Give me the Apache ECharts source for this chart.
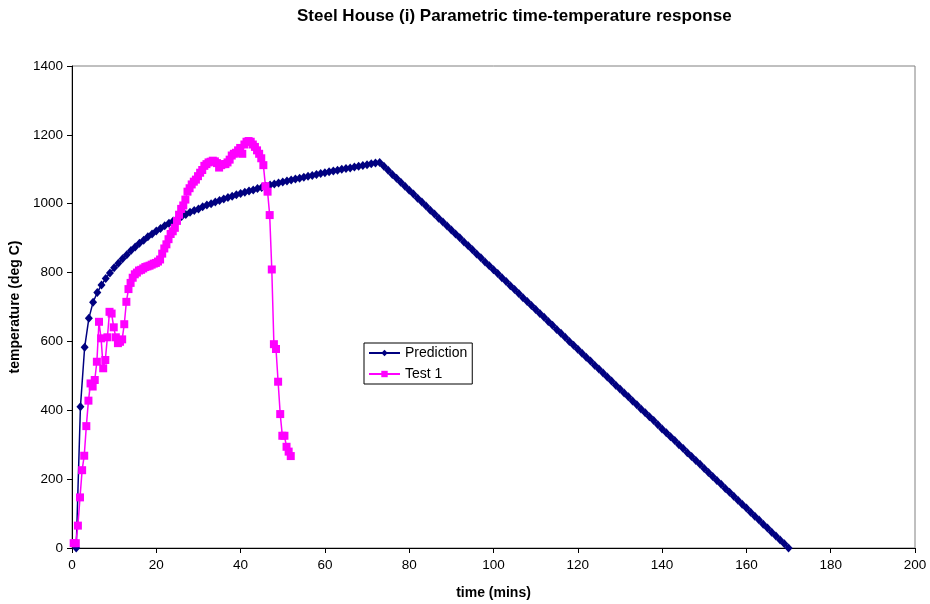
<!DOCTYPE html>
<html>
<head>
<meta charset="utf-8">
<script src="https://cdn.jsdelivr.net/npm/echarts@6/dist/echarts.min.js"></script>
<style>
html,body{margin:0;padding:0;background:#fff;}
#chart{width:930px;height:604px;}
</style>
</head>
<body>
<div id="chart"></div>
<script>
// ---- DATA ----
var titleText = 'Steel House (i) Parametric time-temperature response';
var xAxisTitle = 'time (mins)';
var yAxisTitle = 'temperature (deg C)';
var seriesNames = ['Prediction', 'Test 1'];

// Prediction: one value per minute, starting at minute 1
var predStart = 1;
var predStep = 1;
var predValues = [
  0, 410, 583, 667, 714, 742, 764, 783, 799, 814,
  827, 840, 852, 864, 874, 885, 894, 904, 912, 921,
  928, 936, 943, 950, 957, 963, 969, 975, 980, 985,
  991, 996, 1000, 1005, 1009, 1014, 1018, 1022, 1026, 1030,
  1033, 1037, 1040, 1044, 1047, 1051, 1054, 1057, 1060, 1063,
  1066, 1069, 1072, 1074, 1077, 1080, 1082, 1085, 1088, 1090,
  1093, 1095, 1097, 1100, 1102, 1104, 1107, 1109, 1111, 1113,
  1116, 1118, 1120,
  1109, 1097, 1085, 1074, 1062, 1051, 1039, 1028, 1016, 1005,
  993, 981, 970, 958, 947, 935, 924, 912, 901, 889,
  878, 866, 854, 843, 831, 820, 808, 797, 785, 774,
  762, 751, 739, 727, 716, 704, 693, 681, 670, 658,
  647, 635, 624, 612, 600, 589, 577, 566, 554, 543,
  531, 520, 508, 497, 485, 473, 462, 450, 439, 427,
  416, 404, 393, 381, 370, 358, 346, 335, 323, 312,
  300, 289, 277, 266, 254, 243, 231, 219, 208, 196,
  185, 173, 162, 150, 139, 127, 116, 104, 92, 81,
  69, 58, 46, 35, 23, 12, 0
];

// Test 1: one reading every half minute
var testStart = 0.4;
var testStep = 0.5;
var testValues = [
  14, 14, 65, 147, 226, 268, 354, 428, 478, 469,
  488, 541, 657, 609, 522, 546, 612, 686, 681, 641,
  612, 595, 599, 606, 650, 715, 752, 770, 785, 795,
  800, 806, 808, 812, 816, 818, 820, 823, 826, 828,
  832, 838, 855, 870, 882, 897, 912, 920, 930, 950,
  968, 985, 995, 1012, 1035, 1045, 1056, 1064, 1070, 1080,
  1090, 1098, 1110, 1115, 1120, 1122, 1125, 1123, 1118, 1105,
  1112, 1115, 1115, 1120, 1128, 1140, 1145, 1148, 1155, 1162,
  1145, 1172, 1180, 1182, 1180, 1172, 1165, 1155, 1145, 1132,
  1112, 1051, 1035, 967, 809, 592, 578, 483, 389, 326,
  326, 294, 280, 267
];

var xTicks = {min: 0, max: 200, interval: 20};
var yTicks = {min: 0, max: 1400, interval: 200};

// ---- BUILD ----
function pairs(start, step, vals) {
  var out = [];
  for (var i = 0; i < vals.length; i++) {
    out.push([+(start + i * step).toFixed(3), vals[i]]);
  }
  return out;
}

var FONT = '"Liberation Sans", Arial, sans-serif';
var chart = echarts.init(document.getElementById('chart'), null, {renderer: 'canvas'});
chart.setOption({
  animation: false,
  backgroundColor: '#ffffff',
  title: {
    text: titleText,
    left: 292,
    top: 3,
    textStyle: {fontFamily: FONT, fontSize: 17, fontWeight: 'bold', color: '#000'}
  },
  grid: {
    left: 72, right: 15, top: 66, bottom: 56,
    outerBoundsMode: 'none',
    containLabel: false,
    show: true, borderColor: '#808080', borderWidth: 1, backgroundColor: '#fff'
  },
  legend: {
    orient: 'vertical',
    left: 364, top: 343,
    padding: [3, 5, 3, 4],
    itemGap: 7,
    itemWidth: 31,
    itemHeight: 8,
    borderColor: '#000', borderWidth: 1,
    backgroundColor: '#fff',
    textStyle: {fontFamily: FONT, fontSize: 14, color: '#000', lineHeight: 14},
    data: seriesNames
  },
  xAxis: {
    type: 'value',
    min: xTicks.min, max: xTicks.max, interval: xTicks.interval,
    name: xAxisTitle,
    nameLocation: 'middle',
    nameGap: 38,
    nameTextStyle: {fontFamily: FONT, fontSize: 14, fontWeight: 'bold', color: '#000'},
    axisLine: {show: true, onZero: false, lineStyle: {color: '#000', width: 1}},
    axisTick: {show: true, inside: false, length: 5, lineStyle: {color: '#000'}},
    axisLabel: {fontFamily: FONT, fontSize: 13.5, color: '#000', margin: 10,
      formatter: function (v) { return String(v); }},
    splitLine: {show: false}
  },
  yAxis: {
    type: 'value',
    min: yTicks.min, max: yTicks.max, interval: yTicks.interval,
    name: yAxisTitle,
    nameLocation: 'middle',
    nameGap: 45,
    nameRotate: 90,
    nameTextStyle: {fontFamily: FONT, fontSize: 14, fontWeight: 'bold', color: '#000'},
    axisLine: {show: true, onZero: false, lineStyle: {color: '#000', width: 1}},
    axisTick: {show: true, inside: false, length: 5, lineStyle: {color: '#000'}},
    axisLabel: {fontFamily: FONT, fontSize: 13.5, color: '#000', margin: 9,
      formatter: function (v) { return String(v); }},
    splitLine: {show: false}
  },
  series: [
    {
      name: seriesNames[0],
      type: 'line',
      data: pairs(predStart, predStep, predValues),
      symbol: 'diamond',
      symbolSize: [8, 9],
      showSymbol: true,
      color: '#000080',
      lineStyle: {color: '#000080', width: 1.5},
      itemStyle: {color: '#000080'},
      clip: false
    },
    {
      name: seriesNames[1],
      type: 'line',
      data: pairs(testStart, testStep, testValues),
      symbol: 'rect',
      symbolSize: 8,
      showSymbol: true,
      color: '#ff00ff',
      lineStyle: {color: '#ff00ff', width: 1.5},
      itemStyle: {color: '#ff00ff'},
      clip: false
    }
  ]
});
</script>
</body>
</html>
